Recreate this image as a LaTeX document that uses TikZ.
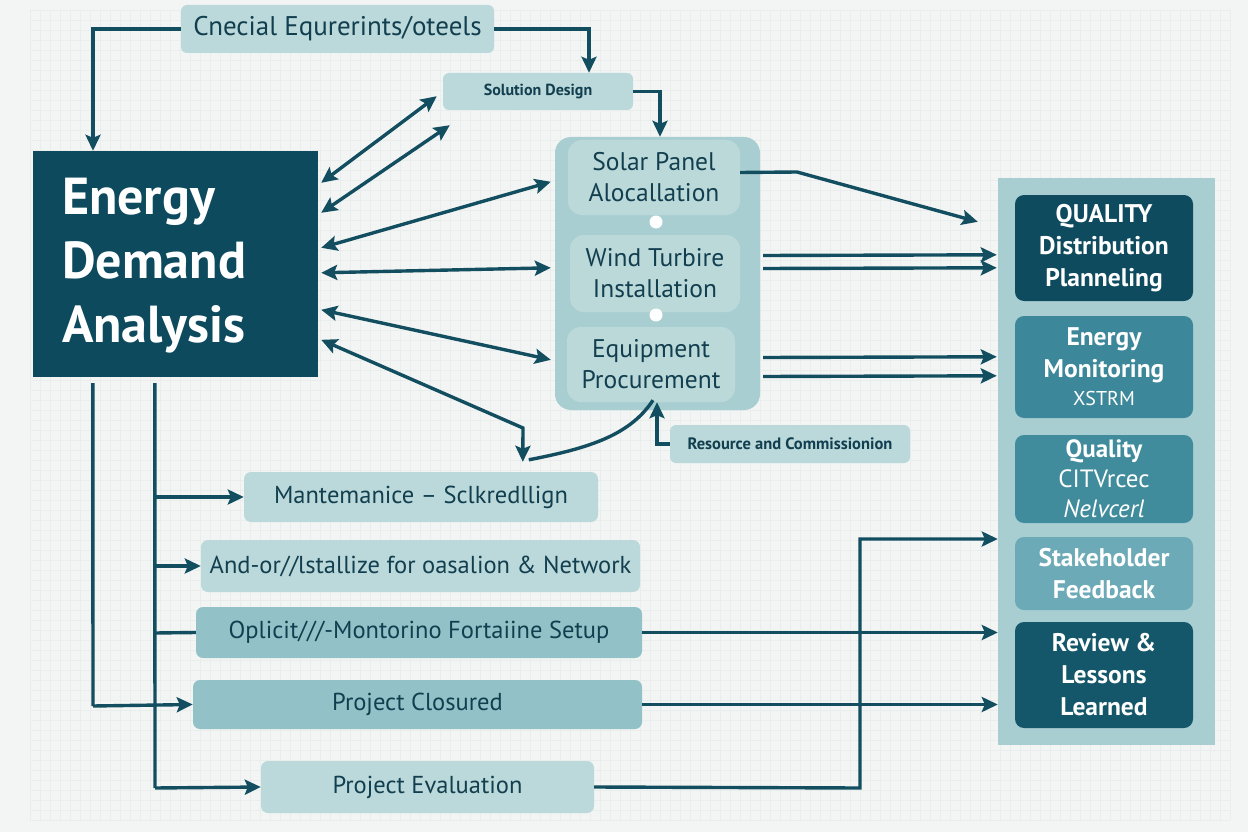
\documentclass[tikz,border=0pt]{standalone}
\usepackage{fontspec}
\setmainfont{PT Sans}
\usetikzlibrary{arrows.meta,calc}
\definecolor{dark}{HTML}{0E4A5E}
\definecolor{ln}{HTML}{124E60}
\definecolor{light}{HTML}{BBD8DA}
\definecolor{midc}{HTML}{92C2C8}
\definecolor{cont}{HTML}{A9CED1}
\definecolor{inner}{HTML}{BCD9DA}
\definecolor{bg}{HTML}{F3F5F4}
\definecolor{gridc}{HTML}{E9EEED}
\definecolor{txt}{HTML}{123F4F}
\definecolor{qa}{HTML}{0F4B5F}
\definecolor{qb}{HTML}{3C889A}
\definecolor{qc}{HTML}{418C9C}
\definecolor{qd}{HTML}{6BAAB6}
\definecolor{qe}{HTML}{14566A}
\tikzset{
  box/.style={rounded corners=6pt, fill=light, text=txt, inner sep=0pt, align=center,
    font=\fontsize{24.5}{28}\selectfont},
  bar/.style={box, rounded corners=7pt},
  qbox/.style={rounded corners=9pt, inner sep=0pt, align=center, text=white,
    font=\bfseries\fontsize{25.5}{32}\selectfont, minimum width=178pt},
  lnk/.style={draw=ln, line width=3.4pt, -{Stealth[length=16pt,width=15pt,inset=3pt]}},
  dbl/.style={draw=ln, line width=3.4pt, {Stealth[length=16pt,width=15pt,inset=3pt]}-{Stealth[length=16pt,width=15pt,inset=3pt]}},
  plainln/.style={draw=ln, line width=3.4pt},
  dotnode/.style={circle, fill=white, inner sep=0pt, minimum size=13pt}
}
\begin{document}
\begin{tikzpicture}[x=1pt,y=-1pt]
\useasboundingbox (0,0) rectangle (1248,832);
\fill[bg] (0,0) rectangle (1248,832);
\foreach \gx in {30,40,...,1230} {\draw[gridc, line width=0.35pt] (\gx,10) -- (\gx,820);}
\foreach \gy in {10,20,...,820} {\draw[gridc, line width=0.35pt] (30,\gy) -- (1230,\gy);}

% top boxes
\node[box, minimum width=313pt, minimum height=48pt, font=\fontsize{27}{30}\selectfont] (top) at (337.5,29) {Cnecial Equrerints/oteels};
\node[box, minimum width=190pt, minimum height=37pt, font=\bfseries\fontsize{16}{20}\selectfont] (sol) at (538,91.5) {Solution Design};

% energy demand analysis
\node[fill=dark, minimum width=285pt, minimum height=226pt, inner sep=0pt] (eda) at (175.5,264) {};
\node[text=white, font=\bfseries\fontsize{52}{64}\selectfont, align=left, text width=227pt, inner sep=0pt] (edatxt) at (175.5,266) {Energy\\Demand\\Analysis};

% middle container
\node[rounded corners=16pt, fill=cont, minimum width=205pt, minimum height=273pt] (mid) at (657.5,273.5) {};
\node[box, rounded corners=14pt, fill=inner, minimum width=172pt, minimum height=75pt, font=\fontsize{25.5}{31}\selectfont] (solar) at (654,177.5) {Solar Panel\\Alocallation};
\node[box, rounded corners=14pt, fill=inner, minimum width=170pt, minimum height=77pt, font=\fontsize{25.5}{31}\selectfont] (wind) at (655,273.5) {Wind Turbire\\Installation};
\node[box, rounded corners=14pt, fill=inner, minimum width=168pt, minimum height=75pt, font=\fontsize{25.5}{31}\selectfont] (equip) at (651,364.5) {Equipment\\Procurement};
\node[dotnode] (d1) at (656,222) {};
\node[dotnode] (d2) at (656,315) {};
\node[box, minimum width=240pt, minimum height=38pt, font=\bfseries\fontsize{16.5}{20}\selectfont] (res) at (790,444) {Resource and Commissionion};

% right container
\node[fill=cont, minimum width=217pt, minimum height=567pt, inner sep=0pt] (right) at (1106.5,461.5) {};
\node[qbox, fill=qa, minimum height=106pt] (q1) at (1104,248) {QUALITY\\Distribution\\Planneling};
\node[qbox, fill=qb, minimum height=102pt] (q2) at (1104,367) {Energy\\Monitoring\\[-4pt]{\mdseries\fontsize{20}{24}\selectfont XSTRM}};
\node[qbox, fill=qc, minimum height=88pt, font=\bfseries\fontsize{25}{30}\selectfont] (q3) at (1104,479) {Quality\\{\mdseries CITVrcec}\\{\mdseries\itshape Nelvcerl}};
\node[qbox, fill=qd, minimum height=73pt] (q4) at (1104,573.5) {Stakeholder\\Feedback};
\node[qbox, fill=qe, minimum height=106pt] (q5) at (1104,675) {Review \&\\Lessons\\Learned};

% bars
\node[bar, minimum width=354pt, minimum height=50pt] (maint) at (421,497) {Mantemanice -- Sclkredllign};
\node[bar, minimum width=439pt, minimum height=52pt] (andor) at (420.5,566) {And-or//lstallize for oasalion \& Network};
\node[bar, fill=midc, minimum width=446pt, minimum height=51pt] (oplic) at (419,632.5) {Oplicit///-Montorino Fortaiine Setup};
\node[bar, fill=midc, minimum width=449pt, minimum height=49pt] (closed) at (417.5,704.5) {Project Closured};
\node[bar, minimum width=333pt, minimum height=52pt] (eval) at (427.5,787) {Project Evaluation};

% helper coordinates
\coordinate (ta) at (93,29);
\coordinate (tb) at (589,29);
\coordinate (tc) at (660,91.5);
\coordinate (k6) at (523,428);
\coordinate (rk) at (657,444);
\coordinate (sk) at (797,172);
\coordinate (ba) at (93,706);
\coordinate (bb) at (155,788);
\coordinate (bm) at (155,497);
\coordinate (bn) at (155,566);
\coordinate (bo) at (155,633);
\coordinate (ea) at (860,788);
\coordinate (eb) at (860,539);

% top connectors
\draw[lnk] (top.west) -- (ta) -- (ta |- eda.north);
\draw[lnk] (top.east) -- (tb) -- (tb |- sol.north);
\draw[lnk] (sol.east) -- (tc) -- (tc |- mid.north);

% energy box double arrows
\draw[dbl] ($(eda.north east)+(3,32)$) -- ($(sol.south west)+(-6,-14)$);
\draw[dbl] ($(eda.north east)+(3,62)$) -- ($(sol.south west)+(7,15)$);
\draw[dbl] ($(eda.north east)+(3,97)$) -- ($(mid.north west)+(-4,45)$);
\draw[dbl] ($(eda.north east)+(3,122)$) -- ($(mid.north west)+(-4,131)$);
\draw[dbl] ($(eda.north east)+(3,159)$) -- ($(mid.north west)+(-4,223)$);
\coordinate (c6) at ($(maint.north west)+(279,-10)$);
\draw[dbl] ($(eda.north east)+(3,189)$) -- (k6) -- (c6);
\draw[plainln] ($(c6)+(6,-2)$) .. controls (590,448) and (630,435) .. ($(equip.south)+(2,-2)$);
\draw[lnk] (res.west) -- (rk) -- (rk |- equip.south);

% middle to right
\draw[lnk] ($(solar.east)+(0,-5)$) -- (sk) -- ($(right.north west)+(-20,44)$);
\draw[lnk] ($(wind.east)+(23,-18)$) -- ($(right.north west)+(-1,77)$);
\draw[lnk] ($(wind.east)+(23,-5)$) -- ($(right.north west)+(-1,90)$);
\draw[lnk] ($(equip.east)+(28,-7)$) -- ($(right.north west)+(-1,179)$);
\draw[lnk] ($(equip.east)+(28,12)$) -- ($(right.north west)+(-1,198)$);

% left bus
\draw[plainln] ($(eda.south west)+(60,6)$) -- (ba);
\draw[lnk] (ba) -- (closed.west);
\draw[plainln] ($(eda.south west)+(122,6)$) -- (bb);
\draw[lnk] (bb) -- (eval.west);
\draw[lnk] (bm) -- (maint.west);
\draw[lnk] (bn) -- (andor.west);
\draw[plainln] (bo) -- (oplic.west);

% bars to right
\draw[lnk] (oplic.east) -- (right.west |- oplic.east);
\draw[lnk] (closed.east) -- (right.west |- closed.east);
\draw[lnk] (eval.east) -- (ea) -- (eb) -- (right.west |- eb);
\end{tikzpicture}
\end{document}
